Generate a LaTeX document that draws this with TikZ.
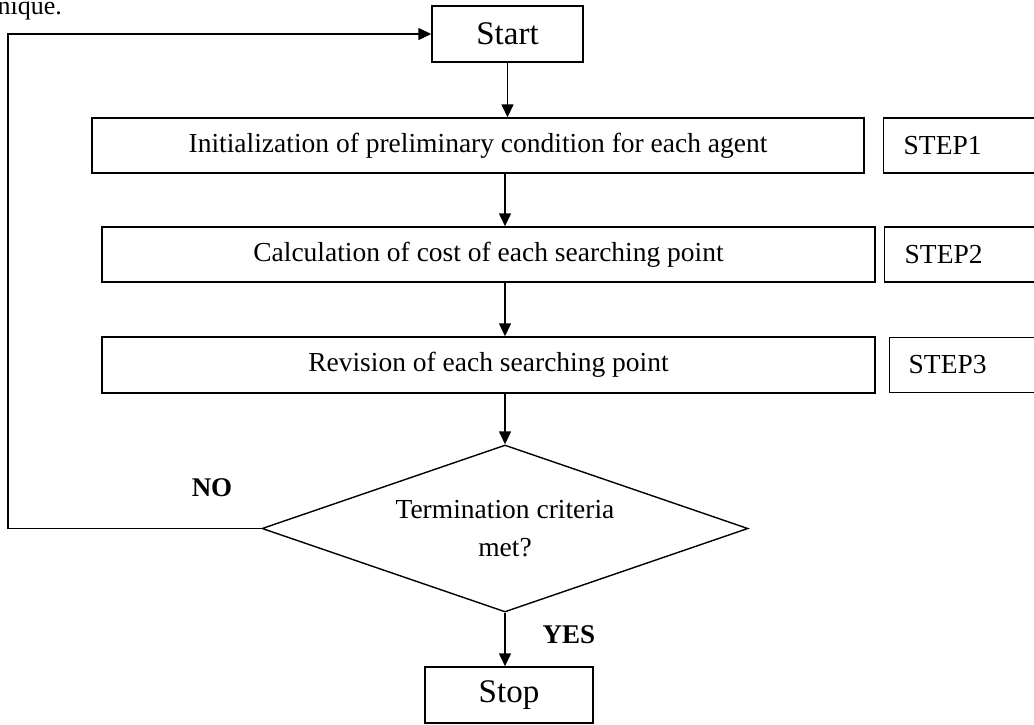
\documentclass[tikz,border=0pt]{standalone}
\usepackage{fontspec}
\setmainfont{Liberation Serif}
\usetikzlibrary{arrows.meta,shapes.geometric}
\tikzset{
  box/.style={draw, line width=1.4pt, rectangle, inner sep=0pt, font=\fontsize{27.5}{37}\selectfont},
  bigbox/.style={box, font=\fontsize{33}{40}\selectfont},
  stepbox/.style={draw, line width=1.4pt, rectangle, anchor=west, minimum height=55pt,
     text width=150pt, align=left, inner xsep=20pt, inner ysep=0pt, font=\fontsize{27.5}{37}\selectfont},
  decision/.style={draw, line width=1.4pt, diamond, aspect=2.9, inner sep=0pt,
     minimum width=486pt, minimum height=167pt, align=center, font=\fontsize{27.5}{38}\selectfont},
  lbl/.style={font=\fontsize{27}{32}\selectfont\bfseries},
  arr/.style={line width=1.4pt, -{Triangle[length=13pt,width=12pt]}},
  conn/.style={line width=1.4pt}
}
\begin{document}
\begin{tikzpicture}[x=1pt,y=-1pt]
\useasboundingbox (0,0) rectangle (1034,724);
\node[anchor=base east, font=\fontsize{26}{30}\selectfont, inner sep=0pt] (frag) at (62,14) {nique.};
\node[bigbox, minimum width=151pt, minimum height=56pt] (start) at (507.5,34) {Start};
\node[box, minimum width=772pt, minimum height=55pt] (b1) at (478,145.5) {Initialization of preliminary condition for each agent};
\node[stepbox] (s1) at (883,145.5) {STEP1};
\node[box, minimum width=773pt, minimum height=55pt] (b2) at (488.5,254.5) {Calculation of cost of each searching point};
\node[stepbox] (s2) at (884,254.5) {STEP2};
\node[box, minimum width=773pt, minimum height=56pt] (b3) at (488.5,365) {Revision of each searching point};
\node[stepbox, inner xsep=19pt] (s3) at (889,365) {STEP3};
\node[decision] (dec) at (505,528.5) {Termination criteria\\met?};
\node[bigbox, minimum width=168pt, minimum height=56pt] (stop) at (509,695) {Stop};
\node[lbl] (no) at (212,488) {NO};
\node[lbl] (yes) at (569,635) {YES};
\coordinate (loopc) at (8,528.5);
\draw[arr] (start.south) -- (start.south |- b1.north);
\draw[arr] (b1.south -| dec.north) -- (b2.north -| dec.north);
\draw[arr] (b2.south -| dec.north) -- (b3.north -| dec.north);
\draw[arr] (b3.south -| dec.north) -- (dec.north);
\draw[arr] (dec.south) -- (dec.south |- stop.north);
\draw[arr] (dec.west) -- (loopc) |- (start.west);
\end{tikzpicture}
\end{document}
